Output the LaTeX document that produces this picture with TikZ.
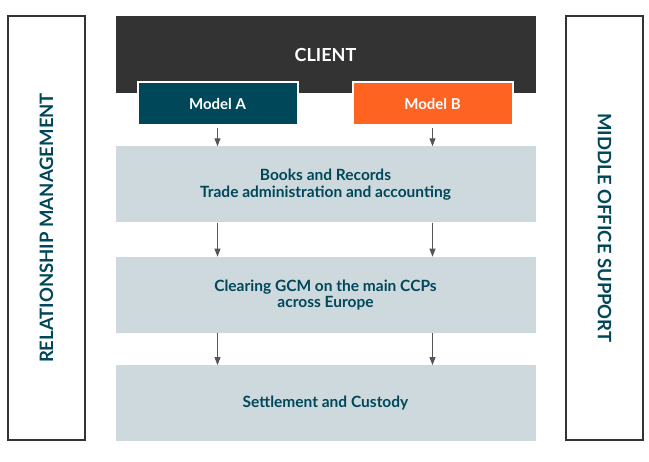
\documentclass[tikz,border=0pt]{standalone}
\usepackage{fontspec}
\setmainfont{Lato}
\usetikzlibrary{arrows.meta,positioning}

\definecolor{clientgray}{HTML}{333333}
\definecolor{tealdark}{HTML}{00475A}
\definecolor{orangeb}{HTML}{FF6322}
\definecolor{stepfill}{HTML}{CDD9DD}
\definecolor{arrowgray}{HTML}{555555}

\begin{document}
\begin{tikzpicture}[
    x=1pt, y=-1pt,
    node distance=33pt,
    client/.style={rectangle, fill=clientgray, text=white, minimum width=420pt, minimum height=77pt, font=\bfseries\fontsize{18}{21}\selectfont},
    model/.style={rectangle, draw=white, line width=2pt, text=white, minimum width=160pt, minimum height=43pt, font=\bfseries\fontsize{15}{17}\selectfont},
    stage/.style={rectangle, fill=stepfill, text=tealdark, minimum width=420pt, minimum height=76pt, align=center, font=\bfseries\fontsize{15.5}{16.5}\selectfont},
    side/.style={rectangle, draw=clientgray, line width=1.3pt, text=tealdark, minimum width=424pt, minimum height=77pt, font=\bfseries\fontsize{18.5}{21}\selectfont},
    arrow/.style={-{Triangle[width=6pt,length=8pt]}, arrowgray, line width=1pt}
]
\useasboundingbox (0,0) rectangle (649,462);

% Side columns
\node[side, rotate=90] (relation) at (46.5,228) {RELATIONSHIP MANAGEMENT};
\node[side, rotate=-90] (middle) at (604.5,228) {MIDDLE OFFICE SUPPORT};

% Client and models
\node[client] (client) at (325.5,54.5) {CLIENT};
\node[model, fill=tealdark] (modela) at (217.5,103.5) {Model A};
\node[model, fill=orangeb] (modelb) at (432.5,103.5) {Model B};

% Stages
\node[stage] (books) at (325.5,184.5) {Books and Records\\Trade administration and accounting};
\node[stage, below=34pt of books] (clearing) {Clearing GCM on the main CCPs\\across Europe};
\node[stage, below=32pt of clearing] (settle) {Settlement and Custody};

% Arrows
\foreach \m in {modela,modelb} {
    \draw[arrow] ([yshift=-2pt]\m.south) -- (\m |- books.north);
    \draw[arrow] (\m |- books.south) -- (\m |- clearing.north);
    \draw[arrow] (\m |- clearing.south) -- (\m |- settle.north);
}

\end{tikzpicture}
\end{document}
